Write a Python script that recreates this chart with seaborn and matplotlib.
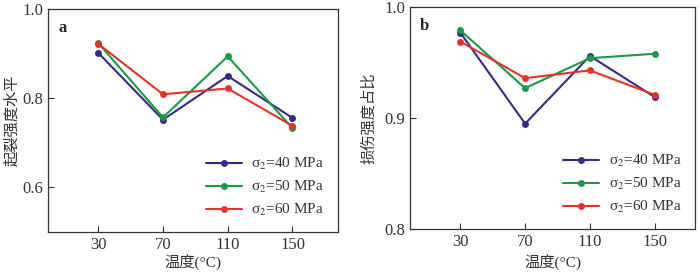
import numpy as np
import pandas as pd
import matplotlib
matplotlib.use("Agg")
import matplotlib.pyplot as plt
import seaborn as sns

# Données
temps = [30, 70, 110, 150]
series = ["σ$_2$=40 MPa", "σ$_2$=50 MPa", "σ$_2$=60 MPa"]

# a : niveau de contrainte d'amorçage
init_40 = [0.902, 0.752, 0.850, 0.756]
init_50 = [0.924, 0.757, 0.894, 0.733]
init_60 = [0.922, 0.809, 0.822, 0.738]

# b : part de la contrainte d'endommagement
dmg_40 = [0.977, 0.895, 0.956, 0.919]
dmg_50 = [0.979, 0.927, 0.954, 0.958]
dmg_60 = [0.969, 0.936, 0.943, 0.921]

colors = ["#3b2a85", "#1a9a46", "#e63329"]

sns.set_theme(style="ticks")
plt.rcParams['font.family'] = ['Liberation Serif', 'Noto Sans CJK SC']
plt.rcParams['mathtext.fontset'] = 'stix'
plt.rcParams['axes.unicode_minus'] = False


def make_df(vals):
    rows = []
    for name, v in zip(series, vals):
        for t, y in zip(temps, v):
            rows.append({"temp": t, "val": y, "serie": name})
    return pd.DataFrame(rows)


fig = plt.figure(figsize=(7, 2.75), dpi=100)
ax_a = fig.add_axes([0.0686, 0.156, 0.414, 0.811])
ax_b = fig.add_axes([0.586, 0.167, 0.407, 0.807])

panels = [
    (ax_a, make_df([init_40, init_50, init_60]), "起裂强度水平", (0.5, 1.0), [0.6, 0.8, 1.0], "a",
     (-1, 178), (-0.125, -0.135)),
    (ax_b, make_df([dmg_40, dmg_50, dmg_60]), "损伤强度占比", (0.8, 1.0), [0.8, 0.9, 1.0], "b",
     (-1, 175), (-0.145, -0.148)),
]

for ax, df, ylab, ylim, yt, letter, xlim, (ylx, xly) in panels:
    sns.lineplot(data=df, x="temp", y="val", hue="serie", hue_order=series,
                 palette=colors, marker="o", markersize=5, markeredgewidth=0,
                 linewidth=1.5, ax=ax)
    ax.set_xlim(*xlim)
    ax.set_ylim(*ylim)
    ax.set_xticks(temps)
    ax.set_yticks(yt)
    ax.set_yticklabels([f"{v:.1f}" for v in yt])
    ax.tick_params(direction="in", length=4, width=0.8, labelsize=12, colors="#333333")
    for s in ax.spines.values():
        s.set_linewidth(0.9)
        s.set_color("#333333")
    ax.set_xlabel("温度(°C)", fontsize=11, color="#333333", va="center")
    ax.set_ylabel(ylab, fontsize=11, color="#333333", va="center")
    ax.xaxis.set_label_coords(0.5, xly)
    ax.yaxis.set_label_coords(ylx, 0.5)
    ax.text(0.035, 0.95, letter, transform=ax.transAxes, fontsize=12,
            fontweight="bold", va="top", ha="left")
    leg = ax.legend(loc="lower right", frameon=False, fontsize=11,
                    handlelength=2.4, handletextpad=0.6, labelspacing=0.45,
                    borderaxespad=0.5)
    for t in leg.get_texts():
        t.set_color("#333333")

fig.savefig("out.png", dpi=100)
